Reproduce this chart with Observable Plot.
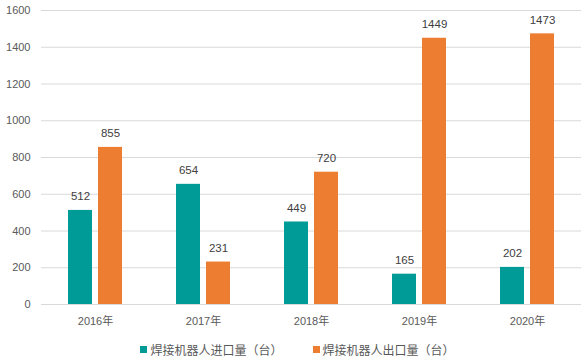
<!DOCTYPE html>
<html>
<head>
<meta charset="utf-8">
<script src="https://cdn.jsdelivr.net/npm/d3@7"></script>
<script src="https://cdn.jsdelivr.net/npm/@observablehq/plot@0.6"></script>
<style>
  html, body { margin: 0; padding: 0; background: #fff; }
  #chart { width: 587px; font-family: "Liberation Sans", "Noto Sans CJK SC", sans-serif; }
  .legend { display: flex; justify-content: center; gap: 30px; height: 30px; align-items: center; margin-top: 1px; padding-left: 8px;
            font-family: "Noto Sans CJK SC", sans-serif; font-size: 12px; color: #595959; }
  .legend span.sw { display: inline-block; width: 7px; height: 7px; margin-right: 3px; vertical-align: middle; }
  .legend .item { display: flex; align-items: center; }
</style>
</head>
<body>
<div id="chart"></div>
<script>
const years = ["2016年", "2017年", "2018年", "2019年", "2020年"];
const series = ["焊接机器人进口量（台）", "焊接机器人出口量（台）"];
const importValues = [512, 654, 449, 165, 202];
const exportValues = [855, 231, 720, 1449, 1473];
const yTicks = [0, 200, 400, 600, 800, 1000, 1200, 1400, 1600];
const colors = ["#009a97", "#ed7d31"];

const data = [];
years.forEach((yr, i) => {
  data.push({year: yr, series: series[0], value: importValues[i]});
  data.push({year: yr, series: series[1], value: exportValues[i]});
});

const plot = Plot.plot({
  width: 587,
  height: 333,
  marginLeft: 40,
  marginRight: 4.5,
  marginTop: 10,
  marginBottom: 29,
  style: {fontFamily: "'Liberation Sans', 'Noto Sans CJK SC', sans-serif", fontSize: "11px", color: "#595959", background: "#fff"},
  fx: {domain: years, padding: 0, label: null, axis: "bottom", tickSize: 0, tickPadding: 13},
  x: {domain: series, paddingInner: 0.19, paddingOuter: 0.845, axis: null},
  y: {domain: [0, 1600], ticks: yTicks, tickFormat: d => String(d), label: null, tickSize: 0, tickPadding: 11},
  color: {domain: series, range: colors},
  marks: [
    Plot.gridY(yTicks, {stroke: "#d9d9d9", strokeOpacity: 1, strokeWidth: 1}),
    Plot.barY(data, {fx: "year", x: "series", y: "value", fill: "series"}),
    Plot.text(data, {fx: "year", x: "series", y: "value", text: d => String(d.value), dy: -14, fill: "#404040", fontSize: 11.5})
  ]
});
document.getElementById("chart").appendChild(plot);

const legend = document.createElement("div");
legend.className = "legend";
series.forEach((s, i) => {
  const item = document.createElement("div");
  item.className = "item";
  const sw = document.createElement("span");
  sw.className = "sw";
  sw.style.background = colors[i];
  item.appendChild(sw);
  item.appendChild(document.createTextNode(s));
  legend.appendChild(item);
});
document.getElementById("chart").appendChild(legend);
</script>
</body>
</html>
